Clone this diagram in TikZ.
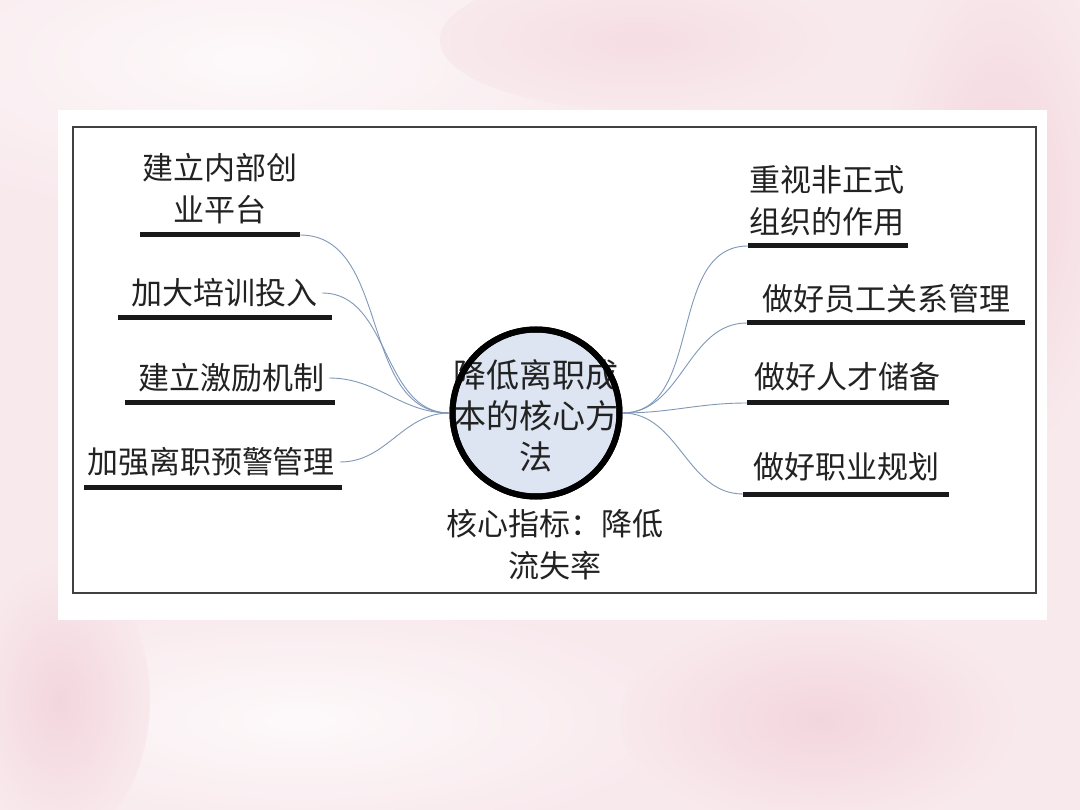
\documentclass[tikz,border=0pt]{standalone}
\usepackage{fontspec}
\newfontfamily\cjk{Noto Sans CJK SC}
\definecolor{bgpink}{HTML}{F8E9ED}
\definecolor{petal}{HTML}{F3D6DD}
\definecolor{softwhite}{HTML}{FDF9FA}
\definecolor{linkblue}{HTML}{7F98B8}
\definecolor{circfill}{HTML}{DDE5F2}
\definecolor{txt}{HTML}{222222}
\begin{document}
\begin{tikzpicture}[x=1pt,y=-1pt,
  item/.style={font=\cjk\fontsize{31}{42}\selectfont, inner sep=0pt, align=center, text=txt},
  uline/.style={line width=5pt, draw=black!90},
  conn/.style={draw=linkblue, line width=0.9pt},
  hub/.style={circle, draw=black, line width=6pt, fill=circfill, minimum size=167pt, inner sep=0pt}]
% background
\useasboundingbox (0,0) rectangle (1080,810);
\fill[bgpink] (0,0) rectangle (1080,810);
\shade[inner color=softwhite, outer color=bgpink] (250,60) ellipse (420 and 160);
\shade[inner color=softwhite, outer color=bgpink] (300,720) ellipse (380 and 120);
\shade[inner color=petal, outer color=bgpink] (1000,200) ellipse (120 and 260);
\shade[inner color=petal, outer color=bgpink] (820,720) ellipse (200 and 110);
\shade[inner color=petal, outer color=bgpink] (60,700) ellipse (90 and 140);
\shade[inner color=petal!60!bgpink, outer color=bgpink] (640,40) ellipse (200 and 70);
% panel and frame
\fill[white] (58,110) rectangle (1047,620);
\draw[line width=2.5pt, draw=black!75] (73,127) rectangle (1036,593);
% hub
\node[hub, font=\cjk\fontsize{33}{41}\selectfont, text=txt, align=center] (c) at (536,413) {};
\node[item, font=\cjk\fontsize{33}{41}\selectfont] (ct) at (536,416) {降低离职成\\本的核心方\\法};
\node[item] (kpi) at (555,545) {核心指标：降低\\流失率};
% left items
\node[item] (l1) at (220,189) {建立内部创\\业平台};
\node[item] (l2) at (224,293) {加大培训投入};
\node[item] (l3) at (231,378) {建立激励机制};
\node[item] (l4) at (211,462) {加强离职预警管理};
% right items
\node[item] (r1) at (827,201) {重视非正式\\组织的作用};
\node[item] (r2) at (886,299) {做好员工关系管理};
\node[item] (r3) at (847,377) {做好人才储备};
\node[item] (r4) at (846,467) {做好职业规划};
% underline endpoints
\coordinate (l1a) at (140,235); \coordinate (l1b) at (300,235);
\coordinate (l2a) at (118,318); \coordinate (l2b) at (332,318);
\coordinate (l3a) at (125,403); \coordinate (l3b) at (335,403);
\coordinate (l4a) at (84,487);  \coordinate (l4b) at (342,487);
\coordinate (r1a) at (748,246); \coordinate (r1b) at (908,246);
\coordinate (r2a) at (747,323); \coordinate (r2b) at (1025,323);
\coordinate (r3a) at (747,403); \coordinate (r3b) at (949,403);
\coordinate (r4a) at (743,494); \coordinate (r4b) at (949,494);
\foreach \u in {l1,l2,l3,l4,r1,r2,r3,r4}{\draw[uline] (\u a) -- (\u b);}
% connectors
\draw[conn] (l1b) to[out=0,in=180] (c.west);
\draw[conn] ([xshift=5pt]l2.east) to[out=0,in=180] (c.west);
\draw[conn] ([xshift=5pt]l3.east) to[out=0,in=180] (c.west);
\draw[conn] ([xshift=5pt]l4.east) to[out=0,in=180] (c.west);
\draw[conn] (c.east) to[out=0,in=180] (r1a);
\draw[conn] (c.east) to[out=0,in=180] (r2a);
\draw[conn] (c.east) to[out=0,in=180] (r3a);
\draw[conn] (c.east) to[out=0,in=180] (r4a);
% hub border drawn again over the connector ends
\draw[line width=6pt] (c.center) circle (83.5);
\end{tikzpicture}
\end{document}
